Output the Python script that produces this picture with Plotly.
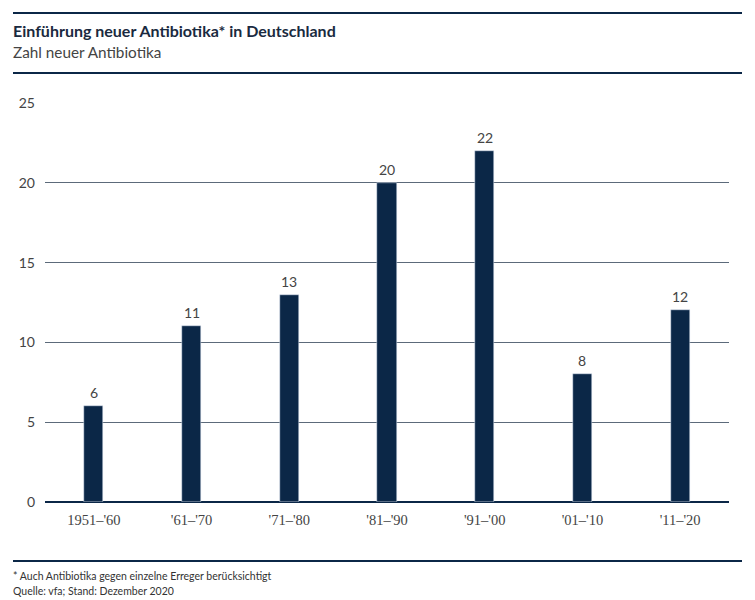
import plotly.graph_objects as go

categories = ["1951–'60", "'61–'70", "'71–'80", "'81–'90", "'91–'00", "'01–'10", "'11–'20"]
values = [6, 11, 13, 20, 22, 8, 12]
y_ticks = [0, 5, 10, 15, 20, 25]

navy = "#0b2747"
sans = "Lato, Open Sans, sans-serif"
fig = go.Figure()
fig.add_trace(go.Bar(
    x=categories, y=values, marker_color=navy, width=0.195,
))
for c, v in zip(categories, values):
    fig.add_annotation(x=c, y=v, text=str(v), showarrow=False, yanchor="bottom", yshift=3,
                       font=dict(family=sans, size=14, color="#444"))

H = 399  # plot height px
def py(ypix):
    return (600 - 98 - ypix) / H

fig.update_layout(
    width=755, height=600,
    margin=dict(l=45, r=26, t=103, b=98),
    paper_bgcolor="white", plot_bgcolor="white",
    showlegend=False, bargap=0,
    font=dict(family=sans, color="#444"),
    xaxis=dict(showgrid=False, showline=False, ticks="",
               tickfont=dict(family="Liberation Serif, serif", size=14.5, color="#444"),
               ticklabelstandoff=7, range=[-0.5, 6.5]),
    yaxis=dict(range=[0, 25], tickvals=y_ticks, showgrid=True, gridcolor="#5c6a7a", gridwidth=1,
               zeroline=True, zerolinecolor=navy, zerolinewidth=2,
               tickfont=dict(family=sans, size=14, color="#444"), ticks="", ticklabelstandoff=9,
               showline=False),
    shapes=[
        dict(type="line", xref="paper", yref="paper", x0=-32/684, x1=(742-45)/684,
             y0=py(13), y1=py(13), line=dict(color=navy, width=2)),
        dict(type="line", xref="paper", yref="paper", x0=-32/684, x1=(742-45)/684,
             y0=py(73), y1=py(73), line=dict(color=navy, width=2)),
        dict(type="line", xref="paper", yref="paper", x0=-32/684, x1=(742-45)/684,
             y0=py(561), y1=py(561), line=dict(color=navy, width=2)),
    ],
)
for txt, yp, sz, col in [
    ("<b>Einführung neuer Antibiotika* in Deutschland</b>", 30, 16, "#1a2a40"),
    ("Zahl neuer Antibiotika", 52, 15.3, "#444"),
    ("* Auch Antibiotika gegen einzelne Erreger berücksichtigt", 576, 10.5, "#333"),
    ("Quelle: vfa; Stand: Dezember 2020", 591, 10.5, "#333"),
]:
    fig.add_annotation(text=txt, xref="paper", yref="paper", x=-34/684, y=py(yp),
                       xanchor="left", yanchor="middle", showarrow=False,
                       font=dict(family=sans, size=sz, color=col))

fig.write_html("out.html", config={"displayModeBar": False},
               post_script="document.body.style.margin='0';document.body.style.overflow='hidden';")
